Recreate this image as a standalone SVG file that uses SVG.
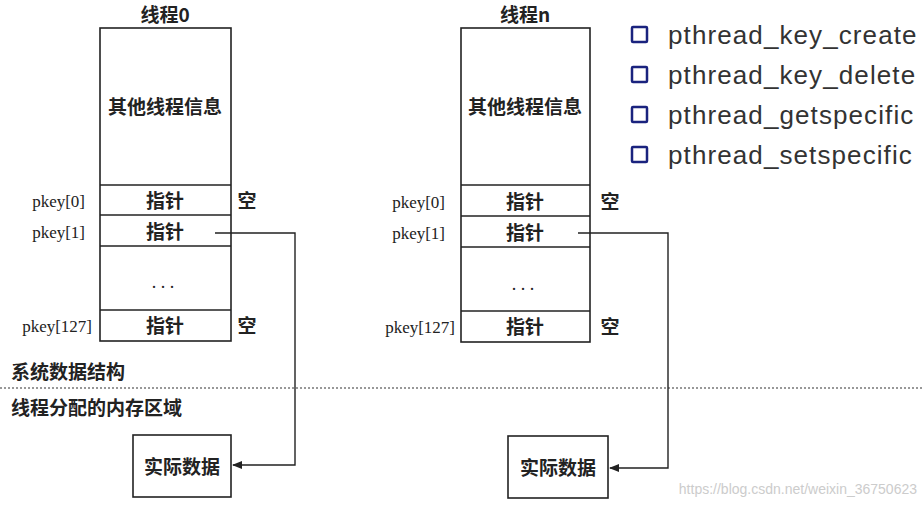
<svg xmlns="http://www.w3.org/2000/svg" width="923" height="505" viewBox="0 0 923 505">
<defs>
<style>
.b{fill:#fff;stroke:#222;stroke-width:1.6}
.t{font-family:"Noto Sans CJK SC",sans-serif;font-weight:bold;font-size:19px;fill:#222;text-anchor:middle}
.d{font-family:"Liberation Serif",serif;font-size:18px;fill:#222;text-anchor:middle}
.l{font-family:"Liberation Serif",serif;font-size:17px;fill:#222;text-anchor:end}
.c{fill:none;stroke:#222;stroke-width:1.4}
.f{font-family:"Liberation Sans",sans-serif;font-size:26px;letter-spacing:1.1px;fill:#333}
.q{fill:#fff;stroke:#1a237e;stroke-width:2.5}
</style>
<marker id="a" markerWidth="10" markerHeight="8" refX="9" refY="4" orient="auto" markerUnits="userSpaceOnUse"><path d="M0,0L10,4L0,8z" fill="#222"/></marker>
</defs>
<rect width="923" height="505" fill="#fff"/>
<g id="thread0">
<text class="t" x="165" y="22">线程0</text>
<rect class="b" x="100" y="28" width="131" height="313"/>
<line class="c" x1="100" y1="185" x2="231" y2="185"/>
<line class="c" x1="100" y1="215" x2="231" y2="215"/>
<line class="c" x1="100" y1="246" x2="231" y2="246"/>
<line class="c" x1="100" y1="310" x2="231" y2="310"/>
<text class="t" x="165" y="114">其他线程信息</text>
<text class="t" x="165" y="208">指针</text>
<text class="t" x="165" y="239">指针</text>
<text class="d" x="163" y="288">. . .</text>
<text class="t" x="165" y="333">指针</text>
<text class="l" x="85" y="207">pkey[0]</text>
<text class="l" x="85" y="238">pkey[1]</text>
<text class="l" x="92" y="332">pkey[127]</text>
<text class="t" x="247" y="208">空</text>
<text class="t" x="247" y="333">空</text>
</g>
<g id="threadn">
<text class="t" x="525" y="22">线程n</text>
<rect class="b" x="461" y="28" width="129" height="314"/>
<line class="c" x1="461" y1="185" x2="590" y2="185"/>
<line class="c" x1="461" y1="216" x2="590" y2="216"/>
<line class="c" x1="461" y1="247" x2="590" y2="247"/>
<line class="c" x1="461" y1="311" x2="590" y2="311"/>
<text class="t" x="525" y="114">其他线程信息</text>
<text class="t" x="525" y="209">指针</text>
<text class="t" x="525" y="240">指针</text>
<text class="d" x="523" y="290">. . .</text>
<text class="t" x="525" y="334">指针</text>
<text class="l" x="445" y="208">pkey[0]</text>
<text class="l" x="445" y="239">pkey[1]</text>
<text class="l" x="455" y="333">pkey[127]</text>
<text class="t" x="610" y="209">空</text>
<text class="t" x="610" y="334">空</text>
</g>
<g id="data0">
<rect class="b" x="133" y="435" width="98" height="62"/>
<text class="t" x="182" y="474">实际数据</text>
</g>
<g id="datan">
<rect class="b" x="508" y="436" width="100" height="62"/>
<text class="t" x="558" y="475">实际数据</text>
</g>
<g id="regions">
<text class="t" x="11" y="379" style="text-anchor:start">系统数据结构</text>
<line x1="0" y1="388" x2="923" y2="388" stroke="#333" stroke-width="1.2" stroke-dasharray="2,2"/>
<text class="t" x="11" y="415" style="text-anchor:start">线程分配的内存区域</text>
</g>
<g id="connectors">
<path class="c" d="M215,233H295V465H233" marker-end="url(#a)"/>
<path class="c" d="M578,233H668V468H610" marker-end="url(#a)"/>
</g>
<g id="functions">
<rect class="q" x="632" y="27" width="15" height="15" rx="1"/>
<rect class="q" x="632" y="67" width="15" height="15" rx="1"/>
<rect class="q" x="632" y="107" width="15" height="15" rx="1"/>
<rect class="q" x="632" y="147" width="15" height="15" rx="1"/>
<text class="f" x="668" y="44">pthread_key_create</text>
<text class="f" x="668" y="84">pthread_key_delete</text>
<text class="f" x="668" y="124">pthread_getspecific</text>
<text class="f" x="668" y="164">pthread_setspecific</text>
</g>
<text x="917" y="494" font-family="Liberation Sans,sans-serif" font-size="14" fill="#ccc" text-anchor="end">https://blog.csdn.net/weixin_36750623</text>
</svg>
